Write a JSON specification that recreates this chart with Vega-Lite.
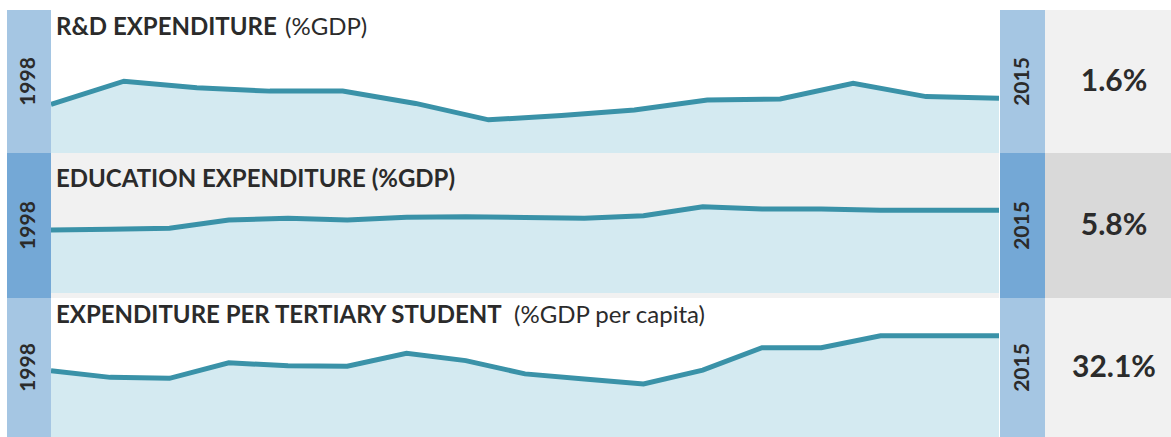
{
  "$schema": "https://vega.github.io/schema/vega-lite/v6.json",
  "padding": {"left": 7, "top": 10, "right": 0, "bottom": 0},
  "background": "white",
  "spacing": 0,
  "config": {"view": {"stroke": null}, "font": "Lato", "text": {"color": "#2b2b2b", "font": "Lato"}},
  "datasets": {
    "rd": [
      {"year": 1998, "value": 1.42}, {"year": 2000, "value": 2.10}, {"year": 2002, "value": 1.91}, {"year": 2004, "value": 1.81},
      {"year": 2006, "value": 1.81}, {"year": 2007, "value": 1.45}, {"year": 2008, "value": 0.97}, {"year": 2009, "value": 1.10},
      {"year": 2010, "value": 1.26}, {"year": 2011, "value": 1.55}, {"year": 2012, "value": 1.58}, {"year": 2013, "value": 2.04},
      {"year": 2014, "value": 1.65}, {"year": 2015, "value": 1.60}
    ],
    "edu": [
      {"year": 1998, "value": 4.42}, {"year": 2000, "value": 4.47}, {"year": 2001, "value": 4.54}, {"year": 2002, "value": 5.12},
      {"year": 2003, "value": 5.24}, {"year": 2004, "value": 5.12}, {"year": 2005, "value": 5.31}, {"year": 2006, "value": 5.35},
      {"year": 2007, "value": 5.29}, {"year": 2008, "value": 5.24}, {"year": 2009, "value": 5.42}, {"year": 2010, "value": 6.05},
      {"year": 2011, "value": 5.89}, {"year": 2012, "value": 5.89}, {"year": 2013, "value": 5.80}, {"year": 2014, "value": 5.80},
      {"year": 2015, "value": 5.80}
    ],
    "tert": [
      {"year": 1998, "value": 21.0}, {"year": 2000, "value": 18.9}, {"year": 2001, "value": 18.6}, {"year": 2002, "value": 23.5},
      {"year": 2003, "value": 22.6}, {"year": 2004, "value": 22.4}, {"year": 2005, "value": 26.5}, {"year": 2006, "value": 24.2},
      {"year": 2007, "value": 20.0}, {"year": 2008, "value": 18.4}, {"year": 2009, "value": 16.8}, {"year": 2010, "value": 21.2},
      {"year": 2011, "value": 28.3}, {"year": 2012, "value": 28.3}, {"year": 2013, "value": 32.1}, {"year": 2014, "value": 32.1},
      {"year": 2015, "value": 32.1}
    ]
  },
  "vconcat": [
    {
      "spacing": 1,
      "hconcat": [
        {
          "spacing": 0,
          "hconcat": [
            {
              "width": 44, "height": 143,
              "view": {"fill": "#a5c6e3"},
              "data": {"values": [{"start": "1998"}]},
              "mark": {"type": "text", "angle": 270, "fontSize": 21, "fontWeight": "bold", "align": "center", "baseline": "middle"},
              "encoding": {"text": {"field": "start"}}
            },
            {
              "width": 948, "height": 143,
              "view": {"fill": "white"},
              "data": {"name": "rd"},
              "layer": [
                {
                  "mark": {"type": "area", "color": "#d4eaf1", "clip": true},
                  "encoding": {
                    "x": {"field": "year", "type": "ordinal", "scale": {"type": "point", "padding": 0}, "axis": null},
                    "y": {"field": "value", "type": "quantitative", "scale": {"domain": [0, 4.183], "nice": false, "zero": false}, "axis": null}
                  }
                },
                {
                  "mark": {"type": "line", "color": "#3a92a8", "strokeWidth": 5, "clip": true},
                  "encoding": {
                    "x": {"field": "year", "type": "ordinal"},
                    "y": {"field": "value", "type": "quantitative"}
                  }
                },
                {
                  "data": {"values": [{"title": "R&D EXPENDITURE", "unit": "(%GDP)"}]},
                  "mark": {"type": "text", "align": "left", "baseline": "alphabetic", "fontSize": 24, "fontWeight": "bold", "dx": 5, "dy": 25},
                  "encoding": {
                    "x": {"datum": 1998, "type": "ordinal"},
                    "y": {"datum": 4.183, "type": "quantitative"},
                    "text": {"field": "title"}
                  }
                },
                {
                  "data": {"values": [{"title": "R&D EXPENDITURE", "unit": "(%GDP)"}]},
                  "mark": {"type": "text", "align": "left", "baseline": "alphabetic", "fontSize": 24, "fontWeight": "normal", "dx": 234, "dy": 25},
                  "encoding": {
                    "x": {"datum": 1998, "type": "ordinal"},
                    "y": {"datum": 4.183, "type": "quantitative"},
                    "text": {"field": "unit"}
                  }
                }
              ]
            }
          ]
        },
        {
          "spacing": 0,
          "hconcat": [
            {
              "width": 45, "height": 143,
              "view": {"fill": "#a5c6e3"},
              "data": {"values": [{"end": "2015"}]},
              "mark": {"type": "text", "angle": 270, "fontSize": 21, "fontWeight": "bold", "align": "center", "baseline": "middle"},
              "encoding": {"text": {"field": "end"}}
            },
            {
              "width": 126, "height": 143,
              "view": {"fill": "#f1f1f1"},
              "data": {"values": [{"latest": "1.6%"}]},
              "mark": {"type": "text", "fontSize": 30, "fontWeight": "bold", "align": "center", "baseline": "middle", "dx": 6},
              "encoding": {"text": {"field": "latest"}}
            }
          ]
        }
      ]
    },
    {
      "spacing": 1,
      "hconcat": [
        {
          "spacing": 0,
          "hconcat": [
            {
              "width": 44, "height": 145,
              "view": {"fill": "#74a8d6"},
              "data": {"values": [{"start": "1998"}]},
              "mark": {"type": "text", "angle": 270, "fontSize": 21, "fontWeight": "bold", "align": "center", "baseline": "middle"},
              "encoding": {"text": {"field": "start"}}
            },
            {
              "width": 948, "height": 145,
              "view": {"fill": "#f1f1f1"},
              "data": {"name": "edu"},
              "layer": [
                {
                  "mark": {"type": "area", "color": "#d4eaf1", "clip": true},
                  "encoding": {
                    "x": {"field": "year", "type": "ordinal", "scale": {"type": "point", "padding": 0}, "axis": null},
                    "y": {"field": "value", "type": "quantitative", "scale": {"domain": [-0.35, 9.82], "nice": false, "zero": false}, "axis": null},
                    "y2": {"datum": 0}
                  }
                },
                {
                  "mark": {"type": "line", "color": "#3a92a8", "strokeWidth": 5, "clip": true},
                  "encoding": {
                    "x": {"field": "year", "type": "ordinal"},
                    "y": {"field": "value", "type": "quantitative"}
                  }
                },
                {
                  "data": {"values": [{"title": "EDUCATION EXPENDITURE (%GDP)"}]},
                  "mark": {"type": "text", "align": "left", "baseline": "alphabetic", "fontSize": 24, "fontWeight": "bold", "dx": 5, "dy": 34},
                  "encoding": {
                    "x": {"datum": 1998, "type": "ordinal"},
                    "y": {"datum": 9.82, "type": "quantitative"},
                    "text": {"field": "title"}
                  }
                }
              ]
            }
          ]
        },
        {
          "spacing": 0,
          "hconcat": [
            {
              "width": 45, "height": 145,
              "view": {"fill": "#74a8d6"},
              "data": {"values": [{"end": "2015"}]},
              "mark": {"type": "text", "angle": 270, "fontSize": 21, "fontWeight": "bold", "align": "center", "baseline": "middle"},
              "encoding": {"text": {"field": "end"}}
            },
            {
              "width": 126, "height": 145,
              "view": {"fill": "#d9d9d9"},
              "data": {"values": [{"latest": "5.8%"}]},
              "mark": {"type": "text", "fontSize": 30, "fontWeight": "bold", "align": "center", "baseline": "middle", "dx": 6},
              "encoding": {"text": {"field": "latest"}}
            }
          ]
        }
      ]
    },
    {
      "spacing": 1,
      "hconcat": [
        {
          "spacing": 0,
          "hconcat": [
            {
              "width": 44, "height": 139,
              "view": {"fill": "#a5c6e3"},
              "data": {"values": [{"start": "1998"}]},
              "mark": {"type": "text", "angle": 270, "fontSize": 21, "fontWeight": "bold", "align": "center", "baseline": "middle"},
              "encoding": {"text": {"field": "start"}}
            },
            {
              "width": 948, "height": 139,
              "view": {"fill": "white"},
              "data": {"name": "tert"},
              "layer": [
                {
                  "mark": {"type": "area", "color": "#d4eaf1", "clip": true},
                  "encoding": {
                    "x": {"field": "year", "type": "ordinal", "scale": {"type": "point", "padding": 0}, "axis": null},
                    "y": {"field": "value", "type": "quantitative", "scale": {"domain": [0, 44.05], "nice": false, "zero": false}, "axis": null}
                  }
                },
                {
                  "mark": {"type": "line", "color": "#3a92a8", "strokeWidth": 5, "clip": true},
                  "encoding": {
                    "x": {"field": "year", "type": "ordinal"},
                    "y": {"field": "value", "type": "quantitative"}
                  }
                },
                {
                  "data": {"values": [{"title": "EXPENDITURE PER TERTIARY STUDENT", "unit": "(%GDP per capita)"}]},
                  "mark": {"type": "text", "align": "left", "baseline": "alphabetic", "fontSize": 24, "fontWeight": "bold", "dx": 5, "dy": 25},
                  "encoding": {
                    "x": {"datum": 1998, "type": "ordinal"},
                    "y": {"datum": 44.05, "type": "quantitative"},
                    "text": {"field": "title"}
                  }
                },
                {
                  "data": {"values": [{"title": "EXPENDITURE PER TERTIARY STUDENT", "unit": "(%GDP per capita)"}]},
                  "mark": {"type": "text", "align": "left", "baseline": "alphabetic", "fontSize": 24, "fontWeight": "normal", "dx": 463, "dy": 25},
                  "encoding": {
                    "x": {"datum": 1998, "type": "ordinal"},
                    "y": {"datum": 44.05, "type": "quantitative"},
                    "text": {"field": "unit"}
                  }
                }
              ]
            }
          ]
        },
        {
          "spacing": 0,
          "hconcat": [
            {
              "width": 45, "height": 139,
              "view": {"fill": "#a5c6e3"},
              "data": {"values": [{"end": "2015"}]},
              "mark": {"type": "text", "angle": 270, "fontSize": 21, "fontWeight": "bold", "align": "center", "baseline": "middle"},
              "encoding": {"text": {"field": "end"}}
            },
            {
              "width": 126, "height": 139,
              "view": {"fill": "#f1f1f1"},
              "data": {"values": [{"latest": "32.1%"}]},
              "mark": {"type": "text", "fontSize": 30, "fontWeight": "bold", "align": "center", "baseline": "middle", "dx": 6},
              "encoding": {"text": {"field": "latest"}}
            }
          ]
        }
      ]
    }
  ]
}
